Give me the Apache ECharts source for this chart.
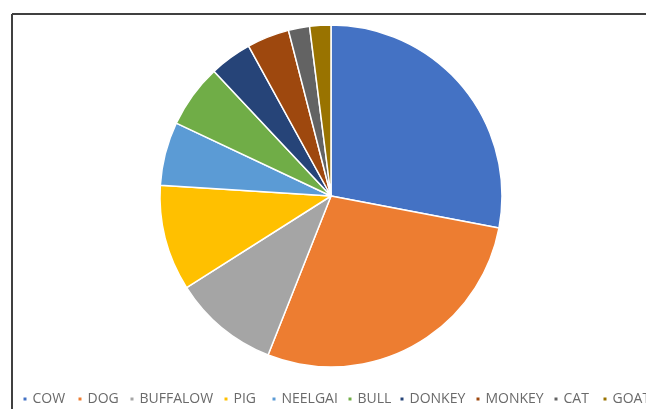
<!DOCTYPE html>
<html>
<head>
<meta charset="utf-8">
<script src="https://cdn.jsdelivr.net/npm/echarts@6/dist/echarts.min.js"></script>
<style>
html,body{margin:0;padding:0;background:#fff;}
#chart{width:646px;height:409px;}
</style>
</head>
<body>
<div id="chart"></div>
<script>
var categories = ['COW','DOG','BUFFALOW','PIG','NEELGAI','BULL','DONKEY','MONKEY','CAT','GOAT'];
var values = [28, 28, 10, 10, 6, 6, 4, 4, 2, 2];
var colors = ['#4472C4','#ED7D31','#A5A5A5','#FFC000','#5B9BD5','#70AD47','#264478','#9E480E','#636363','#997300'];
var legendLeft = [21.5, 76.5, 128.5, 222.5, 270.5, 346.5, 398.5, 474.5, 552.5, 601.5];

var chart = echarts.init(document.getElementById('chart'));
var legends = categories.map(function(c, i){
  return {
    data: [c],
    left: legendLeft[i],
    top: 392,
    itemWidth: 5,
    itemHeight: 5,
    itemGap: 0,
    padding: 0,
    icon: 'rect',
    selectedMode: false,
    textStyle: {color: '#6a6a6a', fontSize: 14, fontFamily: 'Open Sans'}
  };
});
chart.setOption({
  animation: false,
  color: colors,
  legend: legends,
  graphic: [
    {type:'line', shape:{x1:12, y1:14, x2:646, y2:14}, style:{stroke:'#404040', lineWidth:2}},
    {type:'line', shape:{x1:12, y1:14, x2:12, y2:409}, style:{stroke:'#404040', lineWidth:2}}
  ],
  series: [{
    type: 'pie',
    center: [331, 196],
    radius: 171,
    startAngle: 90,
    clockwise: true,
    label: {show: false},
    labelLine: {show: false},
    emphasis: {disabled: true},
    itemStyle: {borderColor: '#fff', borderWidth: 1.5},
    data: categories.map(function(c, i){ return {name: c, value: values[i]}; })
  }]
});
</script>
</body>
</html>
